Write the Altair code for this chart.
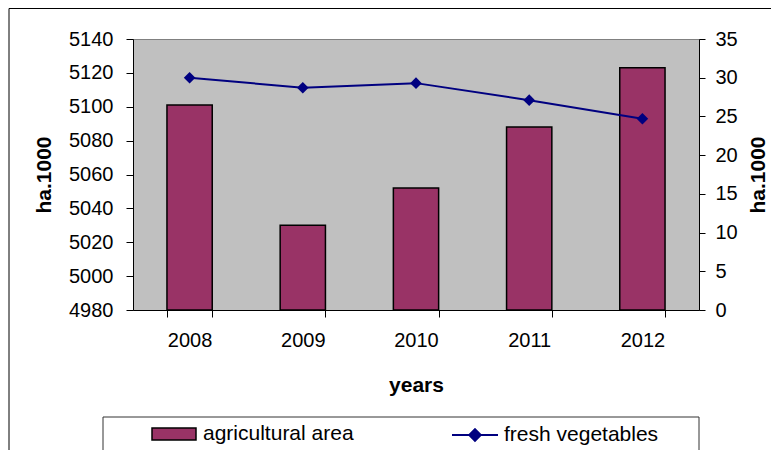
import altair as alt
import pandas as pd

# ---- data ----
years = ["2008", "2009", "2010", "2011", "2012"]
agricultural_area = [5101, 5030, 5052, 5088, 5123]
fresh_vegetables = [30.0, 28.7, 29.3, 27.1, 24.7]
left_ticks = [4980, 5000, 5020, 5040, 5060, 5080, 5100, 5120, 5140]
right_ticks = [0, 5, 10, 15, 20, 25, 30, 35]
series_names = ["agricultural area", "fresh vegetables"]
axis_titles = {"x": "years", "y_left": "ha.1000", "y_right": "ha.1000"}

FONT = "Liberation Sans"
W, H = 566, 271
BAR_COLOR = "#993366"
LINE_COLOR = "#000080"

df = pd.DataFrame({
    "year": years,
    "area": agricultural_area,
    "veg": fresh_vegetables,
    "s1": series_names[0],
    "s2": series_names[1],
})

x_axis = alt.Axis(
    title=axis_titles["x"], labelAngle=0, tickBand="extent", tickSize=7,
    labelPadding=13, titlePadding=24, domainColor="black", tickColor="black",
    labelFontSize=20, titleFontSize=21, titleFontWeight="bold",
    labelColor="black", titleColor="black", labelFont=FONT, titleFont=FONT,
)
x_enc = alt.X("year:N", scale=alt.Scale(paddingInner=0.6, paddingOuter=0.3), axis=x_axis)

bars = alt.Chart(df).mark_bar(stroke="black", strokeWidth=1.5).encode(
    x=x_enc,
    y=alt.Y("area:Q",
            scale=alt.Scale(domain=[left_ticks[0], left_ticks[-1]], zero=False, nice=False),
            axis=alt.Axis(values=left_ticks, format="d", title=axis_titles["y_left"], grid=False,
                          tickSize=7, labelPadding=13, titlePadding=14,
                          domainColor="black", tickColor="black",
                          labelFontSize=20, titleFontSize=21, titleFontWeight="bold",
                          labelColor="black", titleColor="black",
                          labelFont=FONT, titleFont=FONT)),
    y2=alt.datum(left_ticks[0]),
    color=alt.Color("s1:N",
                    scale=alt.Scale(domain=[series_names[0]], range=[BAR_COLOR]),
                    legend=alt.Legend(title=None, orient="none", legendX=18, legendY=372,
                                      symbolType="M-1,-0.27H1V0.27H-1Z", symbolSize=1936,
                                      symbolStrokeColor="black", symbolStrokeWidth=1.5,
                                      labelFontSize=21, labelFont=FONT, labelColor="black",
                                      labelOffset=6, labelLimit=300, padding=0)),
)

y_right = alt.Y("veg:Q",
                scale=alt.Scale(domain=[right_ticks[0], right_ticks[-1]], nice=False),
                axis=alt.Axis(orient="right", values=right_ticks, format="d",
                              title=axis_titles["y_right"],
                              grid=False, tickSize=6, labelPadding=10, titlePadding=10,
                              titleAngle=270, titleBaseline="top",
                              domainColor="black", tickColor="black",
                              labelFontSize=20, titleFontSize=21, titleFontWeight="bold",
                              labelColor="black", titleColor="black",
                              labelFont=FONT, titleFont=FONT))

line = alt.Chart(df).mark_line(strokeWidth=2).encode(
    x=x_enc,
    y=y_right,
    stroke=alt.Stroke("s2:N",
                      scale=alt.Scale(domain=[series_names[1]], range=[LINE_COLOR]),
                      legend=alt.Legend(title=None, orient="none", legendX=318, legendY=372,
                                        symbolType="M-1,0H1M0,-0.25L0.25,0L0,0.25L-0.25,0Z",
                                        symbolSize=2116, symbolStrokeColor=LINE_COLOR,
                                        symbolFillColor=LINE_COLOR, symbolStrokeWidth=2,
                                        labelFontSize=21, labelFont=FONT, labelColor="black",
                                        labelOffset=5, labelLimit=300, padding=0)),
)

points = alt.Chart(df).mark_point(shape="diamond", size=135, filled=True,
                                  color=LINE_COLOR, opacity=1).encode(
    x=x_enc,
    y=y_right,
)

deco = pd.DataFrame({"k": [0]})
outer_frame = alt.Chart(deco).mark_rect(fill="transparent", stroke="black", strokeWidth=1).encode(
    x=alt.value(-124), x2=alt.value(W + 100), y=alt.value(-30.5), y2=alt.value(H + 200)
)
legend_box = alt.Chart(deco).mark_rect(fill="transparent", stroke="#333333", strokeWidth=1).encode(
    x=alt.value(-30), x2=alt.value(W), y=alt.value(378), y2=alt.value(414)
)

chart = alt.layer(
    outer_frame, legend_box, bars, alt.layer(line, points)
).resolve_scale(
    y="independent", color="independent", stroke="independent"
).properties(
    width=W, height=H, autosize="none",
    padding={"left": 125, "top": 31, "right": 72, "bottom": 140},
).configure(font=FONT).configure_view(fill="#C0C0C0", stroke="#808080", strokeWidth=1)

chart.save("out.html", embed_options={"renderer": "svg", "actions": False})
